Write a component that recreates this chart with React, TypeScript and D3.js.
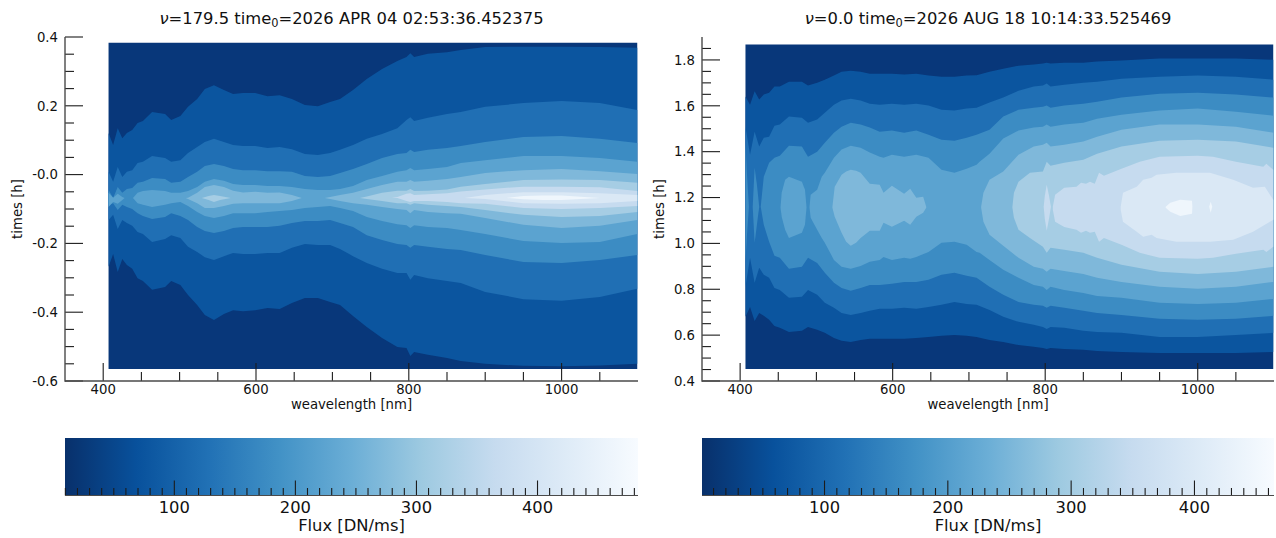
import React from "react";
import * as d3 from "d3";

// ---------- shared ----------
const bandColors = ["#0b559f", "#206fb4", "#3c8cc3", "#5ba3d0", "#7fb8da", "#a6cde4", "#c6dbef", "#dae8f5", "#eff6fc"];
const baseColor = "#08377a";
const barStops = ["#08306b", "#08519c", "#2171b5", "#4292c6", "#6baed6", "#9ecae1", "#c6dbef", "#deebf7", "#f7fbff"];
const wlTicks = [400, 600, 800, 1000];
const wlMinor = [450, 500, 550, 650, 700, 750, 850, 900, 950, 1050];
const fluxTicks = [100, 200, 300, 400];

// wavelength samples [nm] shared by the three outermost contours
const WL = [407,413,419,425,431,438,445,452,464,481,489,501,511,523,533,545,558,570,583,599,615,631,647,664,681,697,710,727,745,765,785,797,802,807,825,850,868,900,950,1000,1050,1099];

// ---------- left panel: contour edges, times [h] ----------
const lTimeDomain = [-0.6, 0.4];
const lTicks = [0.4, 0.2, 0, -0.2, -0.4, -0.6];
const lTickLabels = ["0.4", "0.2", "-0.0", "-0.2", "-0.4", "-0.6"];
const lMinor = [0.35, 0.3, 0.25, 0.15, 0.1, 0.05, -0.05, -0.1, -0.15, -0.25, -0.3, -0.35, -0.45, -0.5, -0.55];
const lExtent = [-0.565, 0.383];
const lFluxDomain = [9.7, 483];

const lL1up = [.121,.086,.135,.106,.121,.130,.150,.156,.182,.176,.159,.170,.197,.220,.249,.260,.246,.234,.237,.237,.228,.231,.220,.202,.199,.211,.220,.246,.278,.307,.330,.342,.353,.342,.351,.356,.362,.371,.372,.372,.371,.369];
const lL1lo = [-.268,-.231,-.283,-.245,-.263,-.274,-.301,-.309,-.335,-.327,-.309,-.321,-.350,-.379,-.408,-.423,-.405,-.394,-.397,-.394,-.388,-.391,-.373,-.359,-.359,-.370,-.379,-.411,-.443,-.475,-.501,-.504,-.527,-.516,-.524,-.533,-.542,-.550,-.556,-.557,-.555,-.550];
const lL2up = [.008,-.021,.022,-.007,.008,.013,.034,.037,.054,.048,.037,.042,.063,.080,.095,.104,.095,.086,.083,.083,.077,.080,.074,.060,.057,.063,.072,.086,.104,.118,.135,.159,.167,.156,.165,.176,.182,.197,.208,.214,.208,.188];
const lL2lo = [-.132,-.117,-.158,-.132,-.141,-.149,-.167,-.173,-.196,-.187,-.176,-.184,-.210,-.225,-.240,-.248,-.237,-.228,-.231,-.231,-.228,-.228,-.213,-.202,-.205,-.205,-.216,-.237,-.257,-.274,-.286,-.286,-.306,-.292,-.301,-.309,-.315,-.341,-.362,-.367,-.356,-.332];
const lL3up = [-.045,-.068,-.036,-.053,-.042,-.039,-.024,-.021,-.010,-.013,-.024,-.021,-.007,.008,.025,.031,.025,.016,.013,.013,.010,.010,.008,-.004,-.007,-.004,.005,.016,.031,.048,.060,.063,.072,.066,.072,.077,.083,.095,.109,.112,.104,.092];
const lL3lo = [-.088,-.083,-.103,-.088,-.094,-.100,-.112,-.120,-.129,-.123,-.112,-.120,-.132,-.152,-.164,-.170,-.164,-.155,-.152,-.152,-.152,-.149,-.141,-.135,-.135,-.132,-.141,-.152,-.176,-.190,-.202,-.205,-.213,-.205,-.210,-.216,-.219,-.234,-.254,-.257,-.248,-.234];

const lL4aW = [407,413,419,425,428];
const lL4aUp = [-.053,-.067,-.056,-.065,-.068];
const lL4aLo = [-.094,-.080,-.085,-.074,-.068];
const lL4bW = [439,445,452,464,481,489,501,511,523,533,545,558,570,583,599,615,631,647,664,681,697,710,727,745,765,785,797,802,807,825,850,868,900,950,1000,1050,1099];
const lL4bUp = [-.068,-.053,-.048,-.045,-.048,-.053,-.053,-.048,-.036,-.021,-.013,-.018,-.027,-.030,-.030,-.033,-.033,-.036,-.042,-.045,-.045,-.042,-.033,-.016,-.004,.008,.013,.019,.013,.016,.022,.034,.042,.054,.054,.048,.037];
const lL4bLo = [-.068,-.083,-.088,-.094,-.088,-.083,-.080,-.091,-.109,-.120,-.126,-.120,-.112,-.112,-.112,-.109,-.106,-.103,-.097,-.094,-.091,-.097,-.106,-.123,-.135,-.144,-.147,-.155,-.147,-.152,-.155,-.161,-.173,-.193,-.199,-.196,-.173];

const lL5aW = [508,511,523,533,545,558,570,583,599,615,631,647,660];
const lL5aUp = [-.068,-.067,-.053,-.036,-.030,-.036,-.047,-.052,-.050,-.053,-.052,-.059,-.068];
const lL5aLo = [-.068,-.071,-.083,-.097,-.097,-.091,-.085,-.083,-.083,-.083,-.083,-.077,-.068];
const lL5bW = [690,697,710,727,745,765,785,797,802,807,825,850,868,900,950,1000,1050,1099];
const lL5bUp = [-.068,-.065,-.059,-.053,-.042,-.030,-.021,-.021,-.016,-.021,-.018,-.013,-.007,.005,.013,.016,.010,.002];
const lL5bLo = [-.068,-.071,-.077,-.083,-.088,-.094,-.100,-.103,-.112,-.103,-.109,-.112,-.114,-.126,-.146,-.155,-.149,-.132];

const lL6aW = [529,538,545,553,567];
const lL6aUp = [-.068,-.062,-.059,-.062,-.068];
const lL6aLo = [-.068,-.074,-.080,-.074,-.068];
const lL6bW = [736,745,765,785,797,802,807,825,850,868,900,950,1000,1050,1099];
const lL6bUp = [-.068,-.064,-.053,-.047,-.047,-.042,-.048,-.047,-.043,-.035,-.027,-.016,-.014,-.016,-.024];
const lL6bLo = [-.068,-.071,-.077,-.083,-.083,-.088,-.083,-.088,-.091,-.094,-.103,-.117,-.123,-.120,-.109];

const lL7W = [778,785,797,802,807,825,850,868,900,950,1000,1050,1099];
const lL7Up = [-.068,-.065,-.056,-.054,-.059,-.057,-.054,-.049,-.043,-.035,-.035,-.037,-.048];
const lL7Lo = [-.068,-.068,-.077,-.080,-.077,-.077,-.080,-.083,-.085,-.097,-.100,-.097,-.091];

const lL8W = [873,900,950,1000,1050,1099];
const lL8Up = [-.068,-.059,-.051,-.051,-.054,-.059];
const lL8Lo = [-.068,-.071,-.083,-.085,-.083,-.077];

const lL9W = [928,950,975,1000,1050];
const lL9Up = [-.068,-.062,-.061,-.061,-.068];
const lL9Lo = [-.068,-.072,-.074,-.074,-.068];

// ---------- right panel: contour edges, times [h] ----------
const rTimeDomain = [0.4, 1.9];
const rTicks = [1.8, 1.6, 1.4, 1.2, 1.0, 0.8, 0.6, 0.4];
const rTickLabels = ["1.8", "1.6", "1.4", "1.2", "1.0", "0.8", "0.6", "0.4"];
const rMinor = [1.85, 1.75, 1.7, 1.65, 1.55, 1.5, 1.45, 1.35, 1.3, 1.25, 1.15, 1.1, 1.05, 0.95, 0.9, 0.85, 0.75, 0.7, 0.65, 0.55, 0.5, 0.45];
const rExtent = [0.452, 1.867];
const rFluxDomain = [0.65, 464.5];

const rL1up = [1.641,1.605,1.663,1.627,1.649,1.657,1.684,1.684,1.705,1.705,1.688,1.701,1.714,1.732,1.749,1.753,1.749,1.740,1.740,1.740,1.736,1.740,1.732,1.727,1.727,1.732,1.733,1.749,1.762,1.775,1.780,1.784,1.788,1.784,1.788,1.788,1.793,1.797,1.806,1.806,1.806,1.801];
const rL1lo = [.680,.723,.662,.697,.684,.667,.640,.632,.614,.619,.636,.623,.610,.588,.575,.570,.579,.584,.584,.584,.584,.588,.592,.597,.601,.597,.592,.579,.570,.557,.549,.544,.540,.544,.540,.536,.531,.527,.522,.522,.522,.527];
const rL2up = [1.509,1.387,1.487,1.422,1.461,1.465,1.513,1.518,1.553,1.548,1.526,1.540,1.570,1.605,1.623,1.631,1.623,1.609,1.605,1.609,1.605,1.609,1.601,1.583,1.579,1.588,1.592,1.614,1.636,1.666,1.684,1.688,1.697,1.684,1.692,1.701,1.705,1.718,1.727,1.732,1.727,1.714];
const rL2lo = [.811,.937,.828,.894,.863,.850,.806,.797,.763,.767,.797,.776,.741,.719,.697,.688,.697,.706,.715,.715,.719,.715,.723,.732,.745,.736,.732,.710,.680,.658,.645,.636,.627,.636,.632,.619,.614,.610,.592,.592,.601,.610];

const rL3aW = [407,409,411.5];
const rL3aUp = [1.439,1.299,1.160];
const rL3aLo = [.920,1.038,1.160];
const rL3bW = [416.5,419,422,425];
const rL3bUp = [1.160,1.330,1.256,1.160];
const rL3bLo = [1.160,1.003,1.081,1.160];
const rL3cW = [427,431,438,445,452,464,481,489,501,511,523,533,545,558,570,583,599,615,631,647,664,681,697,710,727,745,765,785,797,802,807,825,850,868,900,950,1000,1050,1099];
const rL3cUp = [1.160,1.291,1.352,1.374,1.382,1.426,1.422,1.378,1.400,1.439,1.483,1.509,1.526,1.518,1.505,1.487,1.492,1.483,1.492,1.474,1.452,1.448,1.461,1.474,1.496,1.553,1.583,1.592,1.596,1.601,1.592,1.601,1.609,1.618,1.636,1.653,1.657,1.649,1.636];
const rL3cLo = [1.160,1.081,1.007,.946,.937,.889,.898,.937,.915,.872,.828,.806,.793,.806,.819,.819,.824,.832,.832,.841,.863,.872,.859,.850,.811,.776,.745,.732,.728,.719,.728,.719,.706,.697,.688,.671,.667,.671,.684];

const rL4aW = [453,454.5,459,464,481,485,487];
const rL4aUp = [1.160,1.221,1.278,1.291,1.269,1.234,1.160];
const rL4aLo = [1.155,1.116,1.059,1.024,1.046,1.081,1.155];
const rL4bW = [491,492.5,501,507,511,523,533,545,558,570,583,588,599,615,623,631,647,664,681,697,710,714,727,745,765,785,797,802,807,825,850,868,900,950,1000,1050,1099];
const rL4bUp = [1.160,1.212,1.234,1.291,1.308,1.374,1.409,1.426,1.417,1.396,1.378,1.374,1.387,1.378,1.382,1.387,1.374,1.321,1.308,1.326,1.343,1.356,1.391,1.457,1.492,1.505,1.509,1.518,1.509,1.518,1.526,1.544,1.561,1.579,1.588,1.574,1.557];
const rL4bLo = [1.155,1.112,1.059,1.024,1.003,.928,.898,.889,.902,.920,.928,.941,.928,.937,.933,.941,.963,1.003,1.007,.994,.963,.959,.928,.885,.850,.819,.811,.797,.811,.797,.784,.771,.763,.741,.736,.741,.758];

const rL5aW = [521,524,533,539,545,552,558,570,583,588,599,615,623,631,640,644];
const rL5aUp = [1.160,1.247,1.299,1.313,1.321,1.317,1.308,1.260,1.256,1.221,1.251,1.217,1.238,1.199,1.203,1.160];
const rL5aLo = [1.155,1.116,1.046,1.007,.990,1.003,1.024,1.055,1.055,1.090,1.073,1.099,1.081,1.116,1.134,1.155];
const rL5bW = [716,719,727,745,765,785,797,802,807,825,850,868,900,950,1000,1050,1099];
const rL5bUp = [1.160,1.221,1.278,1.313,1.387,1.422,1.430,1.439,1.422,1.430,1.444,1.465,1.496,1.518,1.518,1.509,1.483];
const rL5bLo = [1.155,1.094,1.038,.990,.937,.898,.889,.876,.889,.880,.867,.850,.832,.811,.802,.811,.832];

const rL6W = [757,759,765,780,797,802,807,825,850,868,900,950,1000,1050,1099];
const rL6Up = [1.160,1.221,1.269,1.308,1.313,1.356,1.339,1.352,1.365,1.391,1.422,1.448,1.452,1.444,1.417];
const rL6Lo = [1.155,1.112,1.059,1.024,.985,.959,.981,.972,.959,.937,.907,.876,.867,.876,.898];

const rL7aW = [798,799.5,802,805,807.5];
const rL7aUp = [1.160,1.208,1.256,1.208,1.160];
const rL7aLo = [1.160,1.107,1.055,1.107,1.160];
const rL7bW = [810,813,825,841,847,853.5,858.7,865,870.6,877,900,924,950,1000,1020,1050,1086,1090,1099];
const rL7bUp = [1.160,1.212,1.243,1.247,1.265,1.260,1.269,1.260,1.308,1.295,1.326,1.356,1.378,1.382,1.378,1.356,1.334,1.347,1.321];
const rL7bLo = [1.147,1.094,1.072,1.059,1.046,1.055,1.046,1.051,1.007,1.024,.994,.959,.937,.933,.937,.955,.972,.963,.985];

const rL8W = [899,902,920,928.5,939.5,946,972,998.5,1016,1046.5,1072.5,1088,1099];
const rL8Up = [1.160,1.221,1.247,1.278,1.286,1.299,1.308,1.308,1.308,1.278,1.243,1.247,1.190];
const rL8Lo = [1.147,1.094,1.051,1.029,1.038,1.024,1.007,1.007,1.007,1.016,1.051,1.081,1.103];

const rL9aW = [958,964,977,992.5,993];
const rL9aUp = [1.160,1.177,1.190,1.186,1.160];
const rL9aLo = [1.155,1.138,1.120,1.129,1.160];
const rL9bW = [1015,1017,1019];
const rL9bUp = [1.160,1.182,1.160];
const rL9bLo = [1.160,1.134,1.160];

type Part = { w: number[]; up: number[]; lo: number[] };
const part = (w: number[], up: number[], lo: number[]): Part => ({ w, up, lo });

const leftBands: Part[][] = [
  [part(WL, lL1up, lL1lo)],
  [part(WL, lL2up, lL2lo)],
  [part(WL, lL3up, lL3lo)],
  [part(lL4aW, lL4aUp, lL4aLo), part(lL4bW, lL4bUp, lL4bLo)],
  [part(lL5aW, lL5aUp, lL5aLo), part(lL5bW, lL5bUp, lL5bLo)],
  [part(lL6aW, lL6aUp, lL6aLo), part(lL6bW, lL6bUp, lL6bLo)],
  [part(lL7W, lL7Up, lL7Lo)],
  [part(lL8W, lL8Up, lL8Lo)],
  [part(lL9W, lL9Up, lL9Lo)],
];
const rightBands: Part[][] = [
  [part(WL, rL1up, rL1lo)],
  [part(WL, rL2up, rL2lo)],
  [part(rL3aW, rL3aUp, rL3aLo), part(rL3bW, rL3bUp, rL3bLo), part(rL3cW, rL3cUp, rL3cLo)],
  [part(rL4aW, rL4aUp, rL4aLo), part(rL4bW, rL4bUp, rL4bLo)],
  [part(rL5aW, rL5aUp, rL5aLo), part(rL5bW, rL5bUp, rL5bLo)],
  [part(rL6W, rL6Up, rL6Lo)],
  [part(rL7aW, rL7aUp, rL7aLo), part(rL7bW, rL7bUp, rL7bLo)],
  [part(rL8W, rL8Up, rL8Lo)],
  [part(rL9aW, rL9aUp, rL9aLo), part(rL9bW, rL9bUp, rL9bLo)],
];

const FONT = "'DejaVu Sans', sans-serif";
const AXIS = "#4a4a4a";
const TICK = "#1c1c1c";
const SMALL = 13.25;
const LARGE = 16.35;

type PanelProps = {
  id: string; x0: number; x1: number; nu: string; stamp: string;
  timeDomain: number[]; ticks: number[]; tickLabels: string[]; minor: number[];
  extent: number[]; bands: Part[][]; fluxDomain: number[]; yLabelX: number;
};

function Panel(p: PanelProps) {
  const top = 37, bottom = 381;
  const x = d3.scaleLinear().domain([350, 1100]).range([p.x0, p.x1]);
  const y = d3.scaleLinear().domain(p.timeDomain).range([bottom, top]);
  const flux = d3.scaleLinear().domain(p.fluxDomain).range([p.x0, p.x1]);
  const area = (q: Part) =>
    d3.area<number>()
      .x((_, i) => x(q.w[i]))
      .y0((_, i) => y(q.lo[i]))
      .y1((_, i) => y(q.up[i]))(q.w) || "";
  const fluxMinor = d3.range(10, p.fluxDomain[1], 10).filter(v => v % 100 !== 0 && v >= p.fluxDomain[0]);
  const cx = (p.x0 + p.x1) / 2;
  return (
    <g fontFamily={FONT} fill="#111">
      <path d={area(part([407, 1099], [p.extent[1], p.extent[1]], [p.extent[0], p.extent[0]]))} fill={baseColor} />
      {p.bands.map((parts, i) => parts.map((q, j) => (
        <path key={`${i}-${j}`} d={area(q)} fill={bandColors[i]} />
      )))}

      {p.ticks.map((t, i) => (
        <g key={t}>
          <line x1={p.x0} x2={p.x0 + 18} y1={y(t)} y2={y(t)} stroke={TICK} strokeWidth={1.1} />
          <text x={p.x0 - 7} y={y(t) + 4.8} fontSize={SMALL} textAnchor="end">{p.tickLabels[i]}</text>
        </g>
      ))}
      {p.minor.map(t => (
        <line key={t} x1={p.x0} x2={p.x0 + 9} y1={y(t)} y2={y(t)} stroke={TICK} strokeWidth={1.1} />
      ))}
      {wlTicks.map(t => (
        <g key={t}>
          <line x1={x(t)} x2={x(t)} y1={bottom - 18} y2={bottom} stroke={TICK} strokeWidth={1.1} />
          <text x={x(t)} y={394} fontSize={SMALL} textAnchor="middle">{t}</text>
        </g>
      ))}
      {wlMinor.map(t => (
        <line key={t} x1={x(t)} x2={x(t)} y1={bottom - 9} y2={bottom} stroke={TICK} strokeWidth={1.1} />
      ))}
      <line x1={p.x0} x2={p.x0} y1={top} y2={bottom + 0.7} stroke={AXIS} strokeWidth={1.4} />
      <line x1={p.x0} x2={p.x1} y1={bottom} y2={bottom} stroke={AXIS} strokeWidth={1.4} />

      <text x={cx} y={409} fontSize={SMALL} textAnchor="middle">weavelength [nm]</text>
      <text transform={`translate(${p.yLabelX},209) rotate(-90)`} fontSize={SMALL} textAnchor="middle">times [h]</text>
      <text x={cx} y={24} fontSize={LARGE} textAnchor="middle">
        <tspan fontStyle="italic">ν</tspan>
        <tspan>={p.nu} time</tspan>
        <tspan fontSize={11.4} dy={3}>0</tspan>
        <tspan dy={-3}>={p.stamp}</tspan>
      </text>

      <rect x={p.x0} y={438} width={p.x1 - p.x0} height={57.5} fill={`url(#${p.id})`} />
      {fluxTicks.map(t => (
        <g key={t}>
          <line x1={flux(t)} x2={flux(t)} y1={480.5} y2={495.5} stroke={TICK} strokeWidth={1.1} />
          <text x={flux(t)} y={513} fontSize={LARGE} textAnchor="middle">{t}</text>
        </g>
      ))}
      {fluxMinor.map(t => (
        <line key={t} x1={flux(t)} x2={flux(t)} y1={488} y2={495.5} stroke={TICK} strokeWidth={1.1} />
      ))}
      <line x1={p.x0} x2={p.x1} y1={495.5} y2={495.5} stroke={AXIS} strokeWidth={1.2} />
      <text x={cx} y={531} fontSize={LARGE} textAnchor="middle">Flux [DN/ms]</text>
    </g>
  );
}

export default function App() {
  const grad = (id: string) => (
    <linearGradient id={id} x1="0" x2="1" y1="0" y2="0">
      {barStops.map((c, i) => (
        <stop key={c} offset={i / (barStops.length - 1)} stopColor={c} />
      ))}
    </linearGradient>
  );
  return (
    <svg width={1276} height={538} viewBox="0 0 1276 538"
      style={{ position: "absolute", left: 0, top: 0, background: "#fff" }}>
      <defs>{grad("barL")}{grad("barR")}</defs>
      <Panel id="barL" x0={65} x1={638} nu="179.5" stamp="2026 APR 04 02:53:36.452375"
        timeDomain={lTimeDomain} ticks={lTicks} tickLabels={lTickLabels} minor={lMinor}
        extent={lExtent} bands={leftBands} fluxDomain={lFluxDomain} yLabelX={21.5} />
      <Panel id="barR" x0={702} x1={1274} nu="0.0" stamp="2026 AUG 18 10:14:33.525469"
        timeDomain={rTimeDomain} ticks={rTicks} tickLabels={rTickLabels} minor={rMinor}
        extent={rExtent} bands={rightBands} fluxDomain={rFluxDomain} yLabelX={663.5} />
    </svg>
  );
}
